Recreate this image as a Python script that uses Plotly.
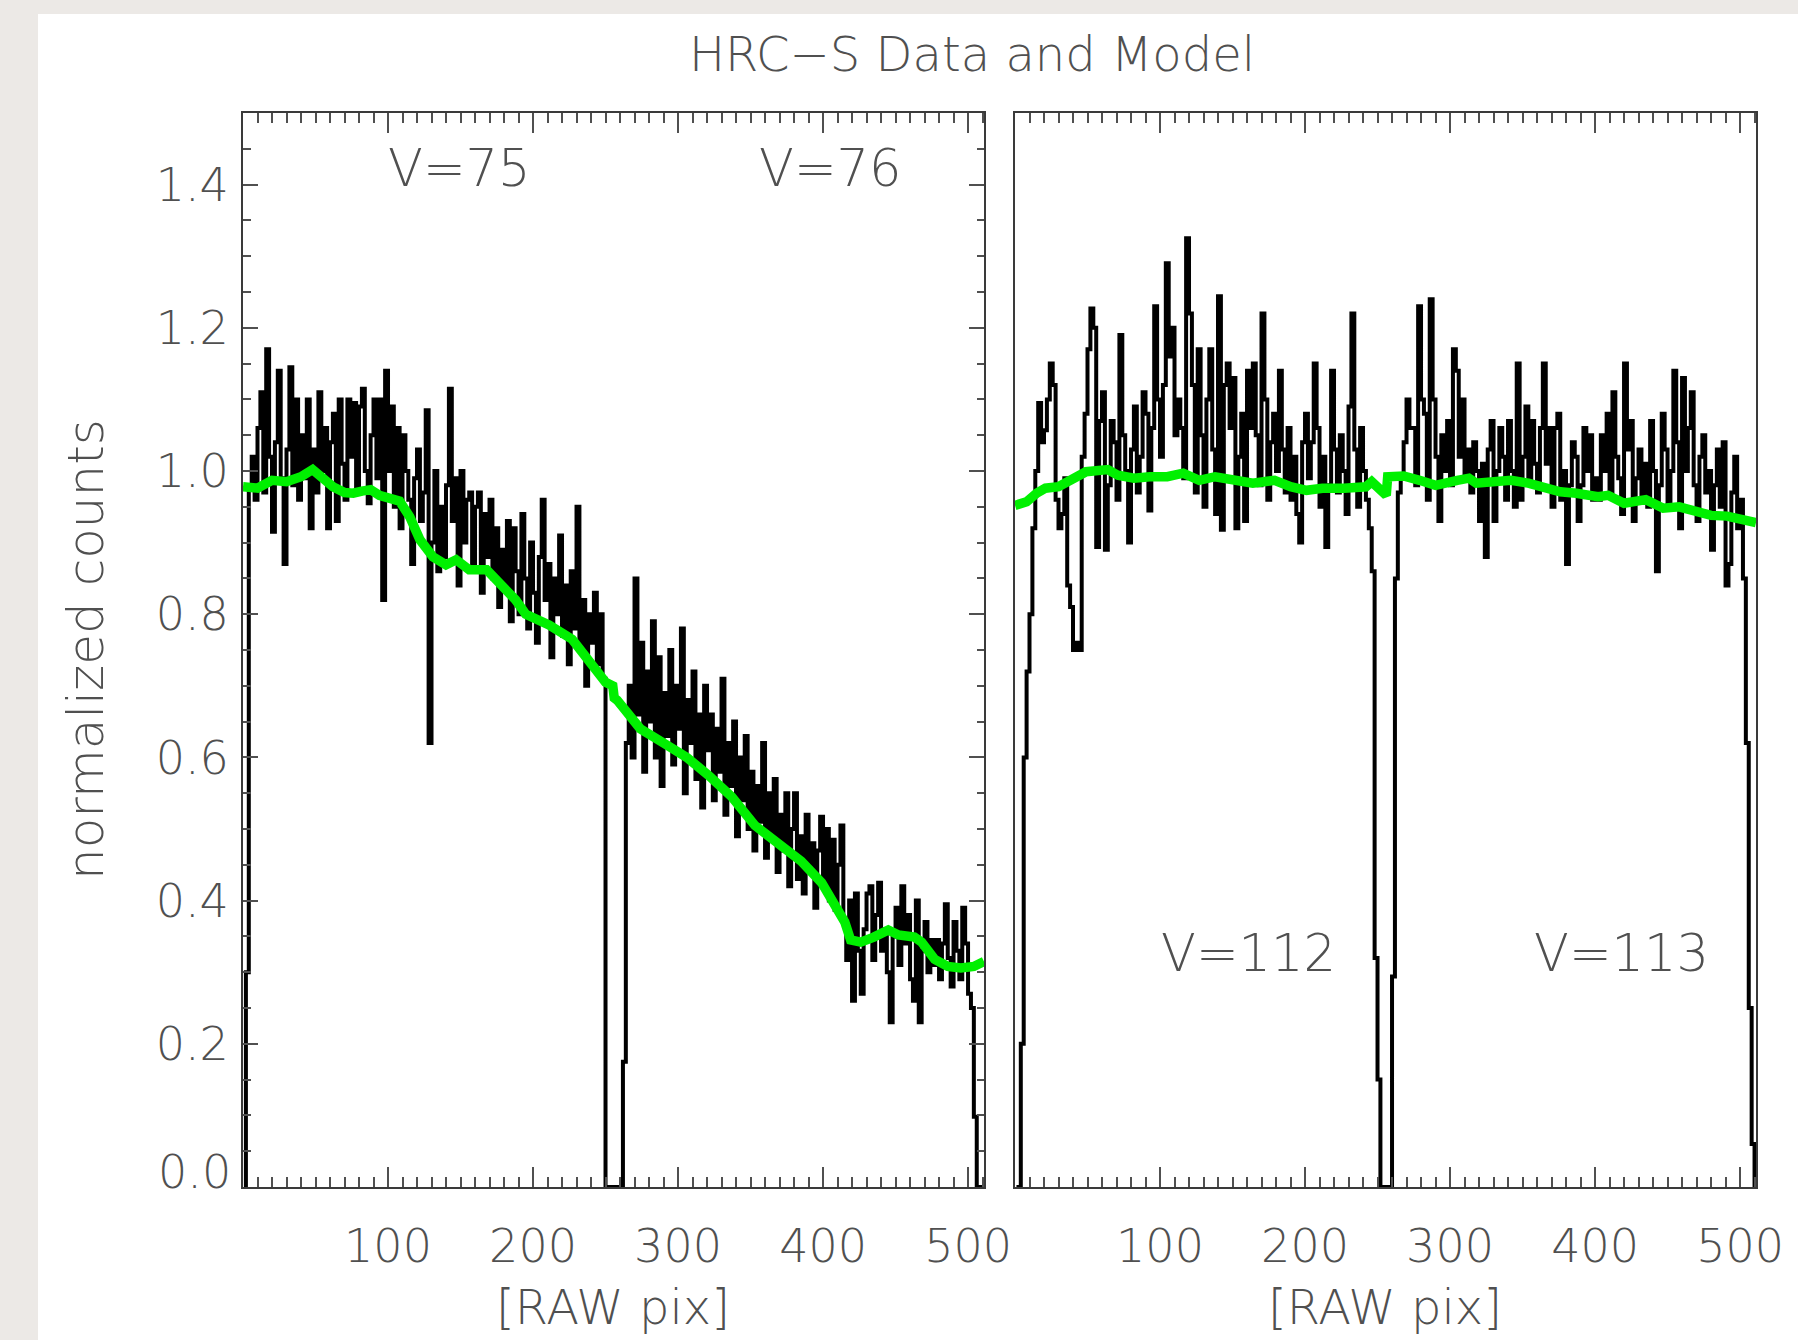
import numpy as np
import plotly.graph_objects as go

# RAW pixel bin centres (2-pixel bins across the 512-pixel tap)
pix = np.arange(1, 512, 2)

# Normalized counts, V=75 / V=76 taps
counts_left = [
    0.0, 0.30, 0.98, 1.02, 0.96, 1.06, 1.11, 0.97, 1.17, 1.02,
    0.915, 1.04, 1.14, 0.99, 0.87, 1.03, 1.145, 0.98, 1.10, 0.96,
    1.05, 0.99, 1.10, 0.92, 1.03, 0.97, 1.11, 1.00, 1.06, 0.92,
    1.04, 1.08, 0.93, 1.10, 1.01, 0.96, 1.10, 1.02, 1.095, 0.97,
    1.09, 1.115, 1.00, 0.955, 1.05, 1.10, 0.99, 1.10, 0.82, 1.14,
    1.00, 1.09, 0.95, 1.06, 0.92, 1.05, 1.00, 0.96, 0.87, 0.99,
    1.03, 0.93, 0.97, 1.085, 0.62, 0.90, 1.00, 0.86, 0.95, 0.88,
    0.98, 1.115, 0.93, 0.99, 0.84, 1.00, 0.90, 0.96, 0.97, 0.87,
    0.95, 0.97, 0.83, 0.94, 0.88, 0.96, 0.85, 0.92, 0.81, 0.89,
    0.84, 0.93, 0.79, 0.92, 0.86, 0.80, 0.94, 0.85, 0.78, 0.90,
    0.83, 0.76, 0.88, 0.96, 0.82, 0.87, 0.74, 0.85, 0.80, 0.91,
    0.77, 0.84, 0.73, 0.86, 0.78, 0.95, 0.75, 0.82, 0.70, 0.80,
    0.76, 0.83, 0.73, 0.80, 0.71, 0.0, 0.0, 0.0, 0.0, 0.0,
    0.0, 0.175, 0.62, 0.70, 0.60, 0.85, 0.66, 0.76, 0.58, 0.72,
    0.65, 0.79, 0.60, 0.74, 0.56, 0.69, 0.63, 0.75, 0.59, 0.70,
    0.64, 0.78, 0.55, 0.68, 0.62, 0.72, 0.57, 0.66, 0.53, 0.70,
    0.61, 0.66, 0.54, 0.64, 0.58, 0.71, 0.52, 0.62, 0.56, 0.65,
    0.49, 0.60, 0.54, 0.63, 0.50, 0.58, 0.47, 0.56, 0.51, 0.62,
    0.46, 0.55, 0.49, 0.57, 0.44, 0.52, 0.47, 0.55, 0.42, 0.50,
    0.55, 0.43, 0.49, 0.41, 0.52, 0.45, 0.48, 0.39, 0.47, 0.517,
    0.42, 0.50, 0.40, 0.485, 0.387, 0.45, 0.505, 0.37, 0.317, 0.40,
    0.26, 0.41, 0.33, 0.27, 0.36, 0.41, 0.42, 0.317, 0.38, 0.425,
    0.33, 0.36, 0.30, 0.23, 0.35, 0.39, 0.31, 0.42, 0.34, 0.38,
    0.29, 0.26, 0.40, 0.23, 0.33, 0.37, 0.30, 0.345, 0.31, 0.345,
    0.29, 0.34, 0.395, 0.32, 0.28, 0.37, 0.33, 0.29, 0.39, 0.34,
    0.27, 0.25, 0.098, 0.0, 0.0, 0.0,
]

# Normalized counts, V=112 / V=113 taps
counts_right = [
    0.0, 0.0, 0.20, 0.60, 0.72, 0.80, 0.92, 1.00, 1.095, 1.04,
    1.057, 1.10, 1.15, 1.12, 0.96, 0.92, 0.94, 0.99, 0.84, 0.81,
    0.75, 0.76, 0.75, 1.02, 1.08, 1.17, 1.227, 1.20, 0.894, 1.07,
    1.11, 0.89, 0.98, 1.07, 1.04, 0.96, 1.19, 1.05, 1.00, 0.90,
    1.03, 1.09, 0.97, 1.02, 1.11, 1.08, 0.945, 1.06, 1.23, 1.10,
    1.02, 1.12, 1.29, 1.16, 1.20, 1.05, 1.10, 1.06, 0.99, 1.325,
    1.22, 1.12, 0.97, 1.17, 1.05, 0.95, 1.10, 1.17, 1.03, 0.94,
    1.244, 0.918, 1.12, 1.15, 1.06, 1.13, 0.92, 1.02, 1.08, 0.93,
    1.14, 1.06, 1.15, 1.05, 0.98, 1.22, 1.10, 0.96, 1.04, 1.08,
    1.00, 1.14, 1.03, 0.97, 1.06, 0.96, 1.02, 0.94, 0.90, 1.04,
    1.08, 0.99, 1.04, 1.15, 1.06, 0.95, 1.02, 0.894, 0.98, 1.14,
    1.03, 0.97, 1.05, 1.00, 0.94, 1.09, 1.22, 1.03, 0.95, 1.06,
    1.00, 0.96, 0.92, 0.86, 0.32, 0.15, 0.0, 0.0, 0.0, 0.0,
    0.294, 0.85, 0.97, 0.99, 1.04, 1.10, 1.06, 1.06, 0.98, 1.23,
    1.10, 1.08, 0.96, 1.24, 1.10, 1.02, 0.93, 1.05, 1.00, 1.07,
    0.98, 1.17, 1.14, 1.02, 1.10, 0.99, 1.03, 0.97, 1.04, 1.00,
    0.93, 1.01, 0.88, 1.03, 1.07, 0.93, 1.00, 1.06, 1.02, 0.96,
    1.07, 1.00, 0.95, 1.15, 0.96, 1.02, 1.09, 0.99, 1.07, 1.01,
    0.97, 1.06, 1.15, 1.01, 1.06, 0.95, 1.06, 1.08, 0.96, 1.00,
    0.87, 0.98, 1.04, 1.02, 0.93, 0.98, 1.06, 1.00, 1.05, 0.96,
    0.99, 0.96, 1.05, 1.00, 1.08, 0.97, 1.11, 1.02, 0.99, 0.94,
    1.15, 1.03, 1.07, 0.93, 0.99, 1.03, 0.96, 1.01, 0.95, 1.07,
    1.00, 0.86, 0.98, 1.08, 1.03, 0.95, 1.00, 1.14, 1.04, 0.92,
    1.13, 1.00, 1.06, 1.11, 0.98, 0.93, 1.02, 1.05, 0.97, 1.00,
    0.89, 0.98, 1.03, 0.95, 1.04, 0.84, 0.87, 0.97, 1.02, 0.92,
    0.96, 0.85, 0.62, 0.25, 0.06, 0.0,
]

# Model curves (pixel, normalized counts)
model_left_x = [0, 10, 20, 30, 40, 48, 55, 62, 70, 76, 82, 88, 94, 99, 108,
                115, 122, 131, 140, 147, 156, 168, 177, 188, 195, 211, 227,
                242, 250, 255, 256, 258, 262, 274, 290, 306, 321, 337, 353,
                369, 385, 399, 408, 415, 419, 426, 435, 445, 452, 463, 468,
                477, 486, 495, 504, 511]
model_left_y = [0.978, 0.976, 0.987, 0.985, 0.992, 1.002, 0.990, 0.978, 0.970,
                0.969, 0.972, 0.974, 0.966, 0.962, 0.958, 0.936, 0.904, 0.880,
                0.869, 0.876, 0.862, 0.862, 0.843, 0.820, 0.800, 0.785, 0.765,
                0.725, 0.705, 0.700, 0.683, 0.680, 0.670, 0.640, 0.620, 0.600,
                0.575, 0.545, 0.505, 0.480, 0.455, 0.425, 0.397, 0.370, 0.345,
                0.342, 0.349, 0.359, 0.352, 0.349, 0.342, 0.318, 0.308, 0.306,
                0.308, 0.315]

model_right_x = [0, 8, 15, 21, 30, 39, 49, 54, 64, 71, 82, 93, 105, 116, 127,
                 138, 149, 164, 179, 190, 201, 212, 227, 242, 246, 253, 256,
                 257, 268, 279, 290, 305, 313, 318, 328, 342, 354, 365, 376,
                 387, 402, 409, 420, 435, 447, 458, 469, 480, 491, 499, 511]
model_right_y = [0.952, 0.957, 0.969, 0.976, 0.978, 0.987, 0.999, 1.000, 1.002,
                 0.994, 0.990, 0.992, 0.992, 0.997, 0.987, 0.992, 0.987, 0.983,
                 0.987, 0.978, 0.973, 0.976, 0.976, 0.978, 0.985, 0.969, 0.966,
                 0.992, 0.993, 0.987, 0.980, 0.987, 0.990, 0.983, 0.985, 0.987,
                 0.983, 0.976, 0.971, 0.969, 0.964, 0.966, 0.955, 0.960, 0.948,
                 0.950, 0.945, 0.938, 0.937, 0.934, 0.928]

tap_labels = [("V=75", 149, 1.422, "x", "y"), ("V=76", 405, 1.422, "x", "y"),
              ("V=112", 161, 0.326, "x2", "y2"), ("V=113", 418, 0.326, "x2", "y2")]

x_ticks = [100, 200, 300, 400, 500]
y_ticks = [0.0, 0.2, 0.4, 0.6, 0.8, 1.0, 1.2, 1.4]
y_ticktext = ["", "0.2", "0.4", "0.6", "0.8", "1.0", "1.2", "1.4"]

FONT = "DejaVu Sans"
TXT = "#505050"
AX = "#3a3a3a"
W, H = 1798, 1340
ML, MR, MT, MB = 243, 42, 113, 153
PW, PH = W - ML - MR, H - MT - MB


def px_x(p):
    return (p - ML) / PW


def px_y(p):
    return (H - MB - p) / PH


fig = go.Figure()
for xa, ya, yv, mx, my in [("x", "y", counts_left, model_left_x, model_left_y),
                           ("x2", "y2", counts_right, model_right_x, model_right_y)]:
    fig.add_trace(go.Scatter(x=pix, y=yv, mode="lines", xaxis=xa, yaxis=ya,
                             line=dict(color="black", width=4, shape="hvh"),
                             showlegend=False, hoverinfo="skip"))
    fig.add_trace(go.Scatter(x=mx, y=my, mode="lines", xaxis=xa, yaxis=ya,
                             line=dict(color="#00f000", width=9.5),
                             showlegend=False, hoverinfo="skip"))

tickfont = dict(family=FONT, size=46, color=TXT, weight=200)
xcommon = dict(range=[0, 511], tickmode="array", tickvals=x_ticks,
               ticks="inside", ticklen=20, tickwidth=1.5, tickcolor=TXT,
               minor=dict(ticks="inside", ticklen=10, tickwidth=1.5,
                          tickcolor=TXT, tickmode="linear", tick0=0, dtick=10),
               showline=True, linecolor=AX, linewidth=2, mirror="ticks",
               showgrid=False, zeroline=False, tickfont=tickfont,
               ticklabelstandoff=18)
d_left = [0, (984 - ML) / PW]
d_right = [(1015 - ML) / PW, 1]

fig.update_layout(
    width=W, height=H,
    margin=dict(l=ML, r=MR, t=MT, b=MB),
    paper_bgcolor="#ece9e6", plot_bgcolor="white",
    xaxis=dict(domain=d_left, anchor="y", **xcommon),
    xaxis2=dict(domain=d_right, anchor="y2", **xcommon),
    yaxis=dict(domain=[0, 1], anchor="x", range=[0, 1.5], tickmode="array",
               tickvals=y_ticks, ticktext=y_ticktext, ticks="inside",
               ticklen=15, tickwidth=1.5, tickcolor=TXT,
               minor=dict(ticks="inside", ticklen=7.5, tickwidth=1.5,
                          tickcolor=TXT, tickmode="linear", tick0=0, dtick=0.05),
               showline=True, linecolor=AX, linewidth=2, mirror="ticks",
               showgrid=False, zeroline=False, tickfont=tickfont,
               ticklabelstandoff=3),
    yaxis2=dict(domain=[0, 1], anchor="x2", range=[0, 1.5], ticks="",
                showticklabels=False, showline=True, linecolor=AX, linewidth=2,
                mirror=True, showgrid=False, zeroline=False),
)

# white page card behind the plot
fig.add_shape(type="rect", xref="paper", yref="paper", layer="below",
              x0=px_x(38), x1=px_x(W + 5), y0=px_y(H + 5), y1=px_y(14),
              fillcolor="white", line=dict(width=0))

ann_font = dict(family=FONT, color=TXT, weight=200)
annotations = [
    dict(text="HRC\u2212S Data and Model", x=px_x(972), y=px_y(54),
         font=dict(size=48, **ann_font)),
    dict(text="normalized counts", x=px_x(86), y=px_y(650), textangle=-90,
         font=dict(size=50, **ann_font)),
    dict(text="[RAW pix]", x=px_x(613), y=px_y(1307), font=dict(size=48, **ann_font)),
    dict(text="[RAW pix]", x=px_x(1385), y=px_y(1307), font=dict(size=48, **ann_font)),
    dict(text="0.0", x=px_x(233), y=px_y(1172), xanchor="right",
         font=dict(size=46, **ann_font)),
]
for a in annotations:
    a.setdefault("xanchor", "center")
    fig.add_annotation(xref="paper", yref="paper", yanchor="middle",
                       showarrow=False, **a)
for text, xv, yv, xa, ya in tap_labels:
    fig.add_annotation(text=text, x=xv, y=yv, xref=xa, yref=ya, showarrow=False,
                       font=dict(size=51, **ann_font))

fig.write_html("out.html")
